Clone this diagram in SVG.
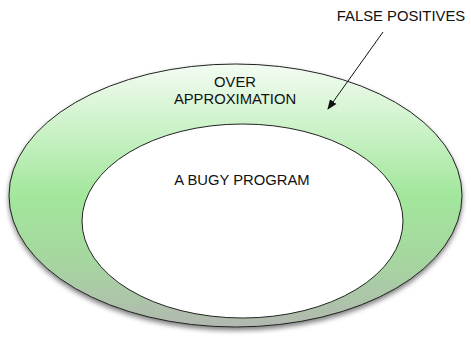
<svg xmlns="http://www.w3.org/2000/svg" width="471" height="338" viewBox="0 0 471 338">
<style>
text{font-family:"Liberation Sans",Arial,sans-serif;font-size:14.8px;fill:#111;text-anchor:middle}
.edge{stroke:#111;stroke-width:1;fill:none}
</style>
<defs>
<linearGradient id="g" x1="0" y1="0" x2="0" y2="1">
<stop offset="0" stop-color="#f3fcf2"/>
<stop offset="0.5" stop-color="#a2e79c"/>
<stop offset="0.75" stop-color="#a6d6a0"/>
<stop offset="1" stop-color="#b2b8b0"/>
</linearGradient>
<filter id="sh" x="-10%" y="-10%" width="120%" height="130%">
<feGaussianBlur in="SourceAlpha" stdDeviation="2.5"/>
<feOffset dx="0" dy="3"/>
<feComponentTransfer><feFuncA type="linear" slope="0.5"/></feComponentTransfer>
<feMerge><feMergeNode/><feMergeNode in="SourceGraphic"/></feMerge>
</filter>
<marker id="ah" markerWidth="10" markerHeight="10" refX="9" refY="5" orient="auto" markerUnits="userSpaceOnUse">
<path d="M0,1 L10,5 L0,9 z" fill="#111"/>
</marker>
</defs>
<rect width="471" height="338" fill="#fff"/>
<g id="over">
<ellipse cx="235.5" cy="195.5" rx="226.5" ry="131.5" fill="url(#g)" stroke="#222" stroke-width="1" filter="url(#sh)"/>
<text x="235" y="87">OVER</text>
<text x="235" y="104">APPROXIMATION</text>
</g>
<g id="bugy">
<ellipse cx="242.5" cy="221" rx="160.5" ry="97" fill="#fff" stroke="#222" stroke-width="1"/>
<text x="242" y="185">A BUGY PROGRAM</text>
</g>
<g id="falsepos">
<text x="401" y="21">FALSE POSITIVES</text>
</g>
<g id="connectors">
<line class="edge" x1="383" y1="32" x2="328" y2="109" marker-end="url(#ah)"/>
</g>
</svg>
